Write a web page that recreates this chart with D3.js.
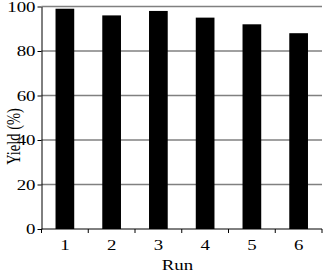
<!DOCTYPE html>
<html>
<head>
<meta charset="utf-8">
<script src="https://cdn.jsdelivr.net/npm/d3@7"></script>
<style>
  body { margin: 0; background: #fff; }
  text { font-family: "Liberation Serif", "Times New Roman", serif; fill: #000; font-size: 14.5px; }
</style>
</head>
<body>
<div id="vizcont"></div>
<script>
// chart data
var runs = ["1", "2", "3", "4", "5", "6"];
var yields = [99, 96, 98, 95, 92, 88];
var yTicks = [0, 20, 40, 60, 80, 100];

var W = 324, H = 273;
var margin = {top: 6.5, right: 2, bottom: 44, left: 41.5};
var width = W - margin.left - margin.right;
var height = H - margin.top - margin.bottom;
var sx = 1.3; // the text in the reference looks stretched sideways

var svg = d3.select("#vizcont")
  .append("svg")
  .attr("width", W)
  .attr("height", H)
  .append("g")
    .attr("transform", "translate(" + margin.left + "," + margin.top + ")");

var x = d3.scaleBand()
  .domain(runs)
  .range([0, width])
  .paddingInner(0.6)
  .paddingOuter(0.3);

var y = d3.scaleLinear()
  .domain([0, 100])
  .range([height, 0]);

// gridlines
svg.append("g")
  .selectAll("line")
  .data(yTicks.slice(1))
  .enter().append("line")
    .attr("x1", 0)
    .attr("x2", width)
    .attr("y1", function(d) { return y(d); })
    .attr("y2", function(d) { return y(d); })
    .attr("stroke", "#808080")
    .style("stroke-width", "1.3px");

// bars
svg.selectAll("rect")
  .data(yields)
  .enter().append("rect")
    .attr("x", function(d, i) { return x(runs[i]); })
    .attr("y", function(d) { return y(d); })
    .attr("width", x.bandwidth())
    .attr("height", function(d) { return height - y(d); })
    .style("fill", "#000");

// y axis
var yAxis = svg.append("g")
  .call(d3.axisLeft(y).tickValues(yTicks).tickSize(4).tickPadding(2).tickSizeOuter(0));
yAxis.selectAll(".domain").attr("stroke", "#000");
yAxis.selectAll(".tick text")
  .attr("x", -6 / sx)
  .attr("transform", "scale(" + sx + ",1)")
  .attr("font-size", null)
  .attr("font-family", null);
yAxis.attr("font-size", null).attr("font-family", null);

// x axis, ticks between categories
var xEdge = d3.scaleLinear().domain([0, runs.length]).range([0, width]);
var xAxis = svg.append("g")
  .attr("transform", "translate(0," + height + ")");
xAxis.append("line")
  .attr("x1", 0).attr("x2", width)
  .attr("stroke", "#000");
xAxis.selectAll("line.tk")
  .data(d3.range(runs.length + 1))
  .enter().append("line")
    .attr("class", "tk")
    .attr("x1", function(d) { return xEdge(d); })
    .attr("x2", function(d) { return xEdge(d); })
    .attr("y1", 0).attr("y2", 4)
    .attr("stroke", "#000");
xAxis.selectAll("text")
  .data(runs)
  .enter().append("text")
    .attr("x", function(d) { return (x(d) + x.bandwidth() / 2) / sx; })
    .attr("y", 21)
    .attr("transform", "scale(" + sx + ",1)")
    .attr("text-anchor", "middle")
    .text(function(d) { return d; });

// axis titles
svg.append("text")
  .attr("transform", "translate(-22,130) scale(" + sx + ",1) rotate(-90)")
  .attr("text-anchor", "middle")
  .text("Yield (%)");

svg.append("text")
  .attr("x", 136 / sx)
  .attr("y", height + 41)
  .attr("transform", "scale(" + sx + ",1)")
  .attr("text-anchor", "middle")
  .text("Run");
</script>
</body>
</html>
